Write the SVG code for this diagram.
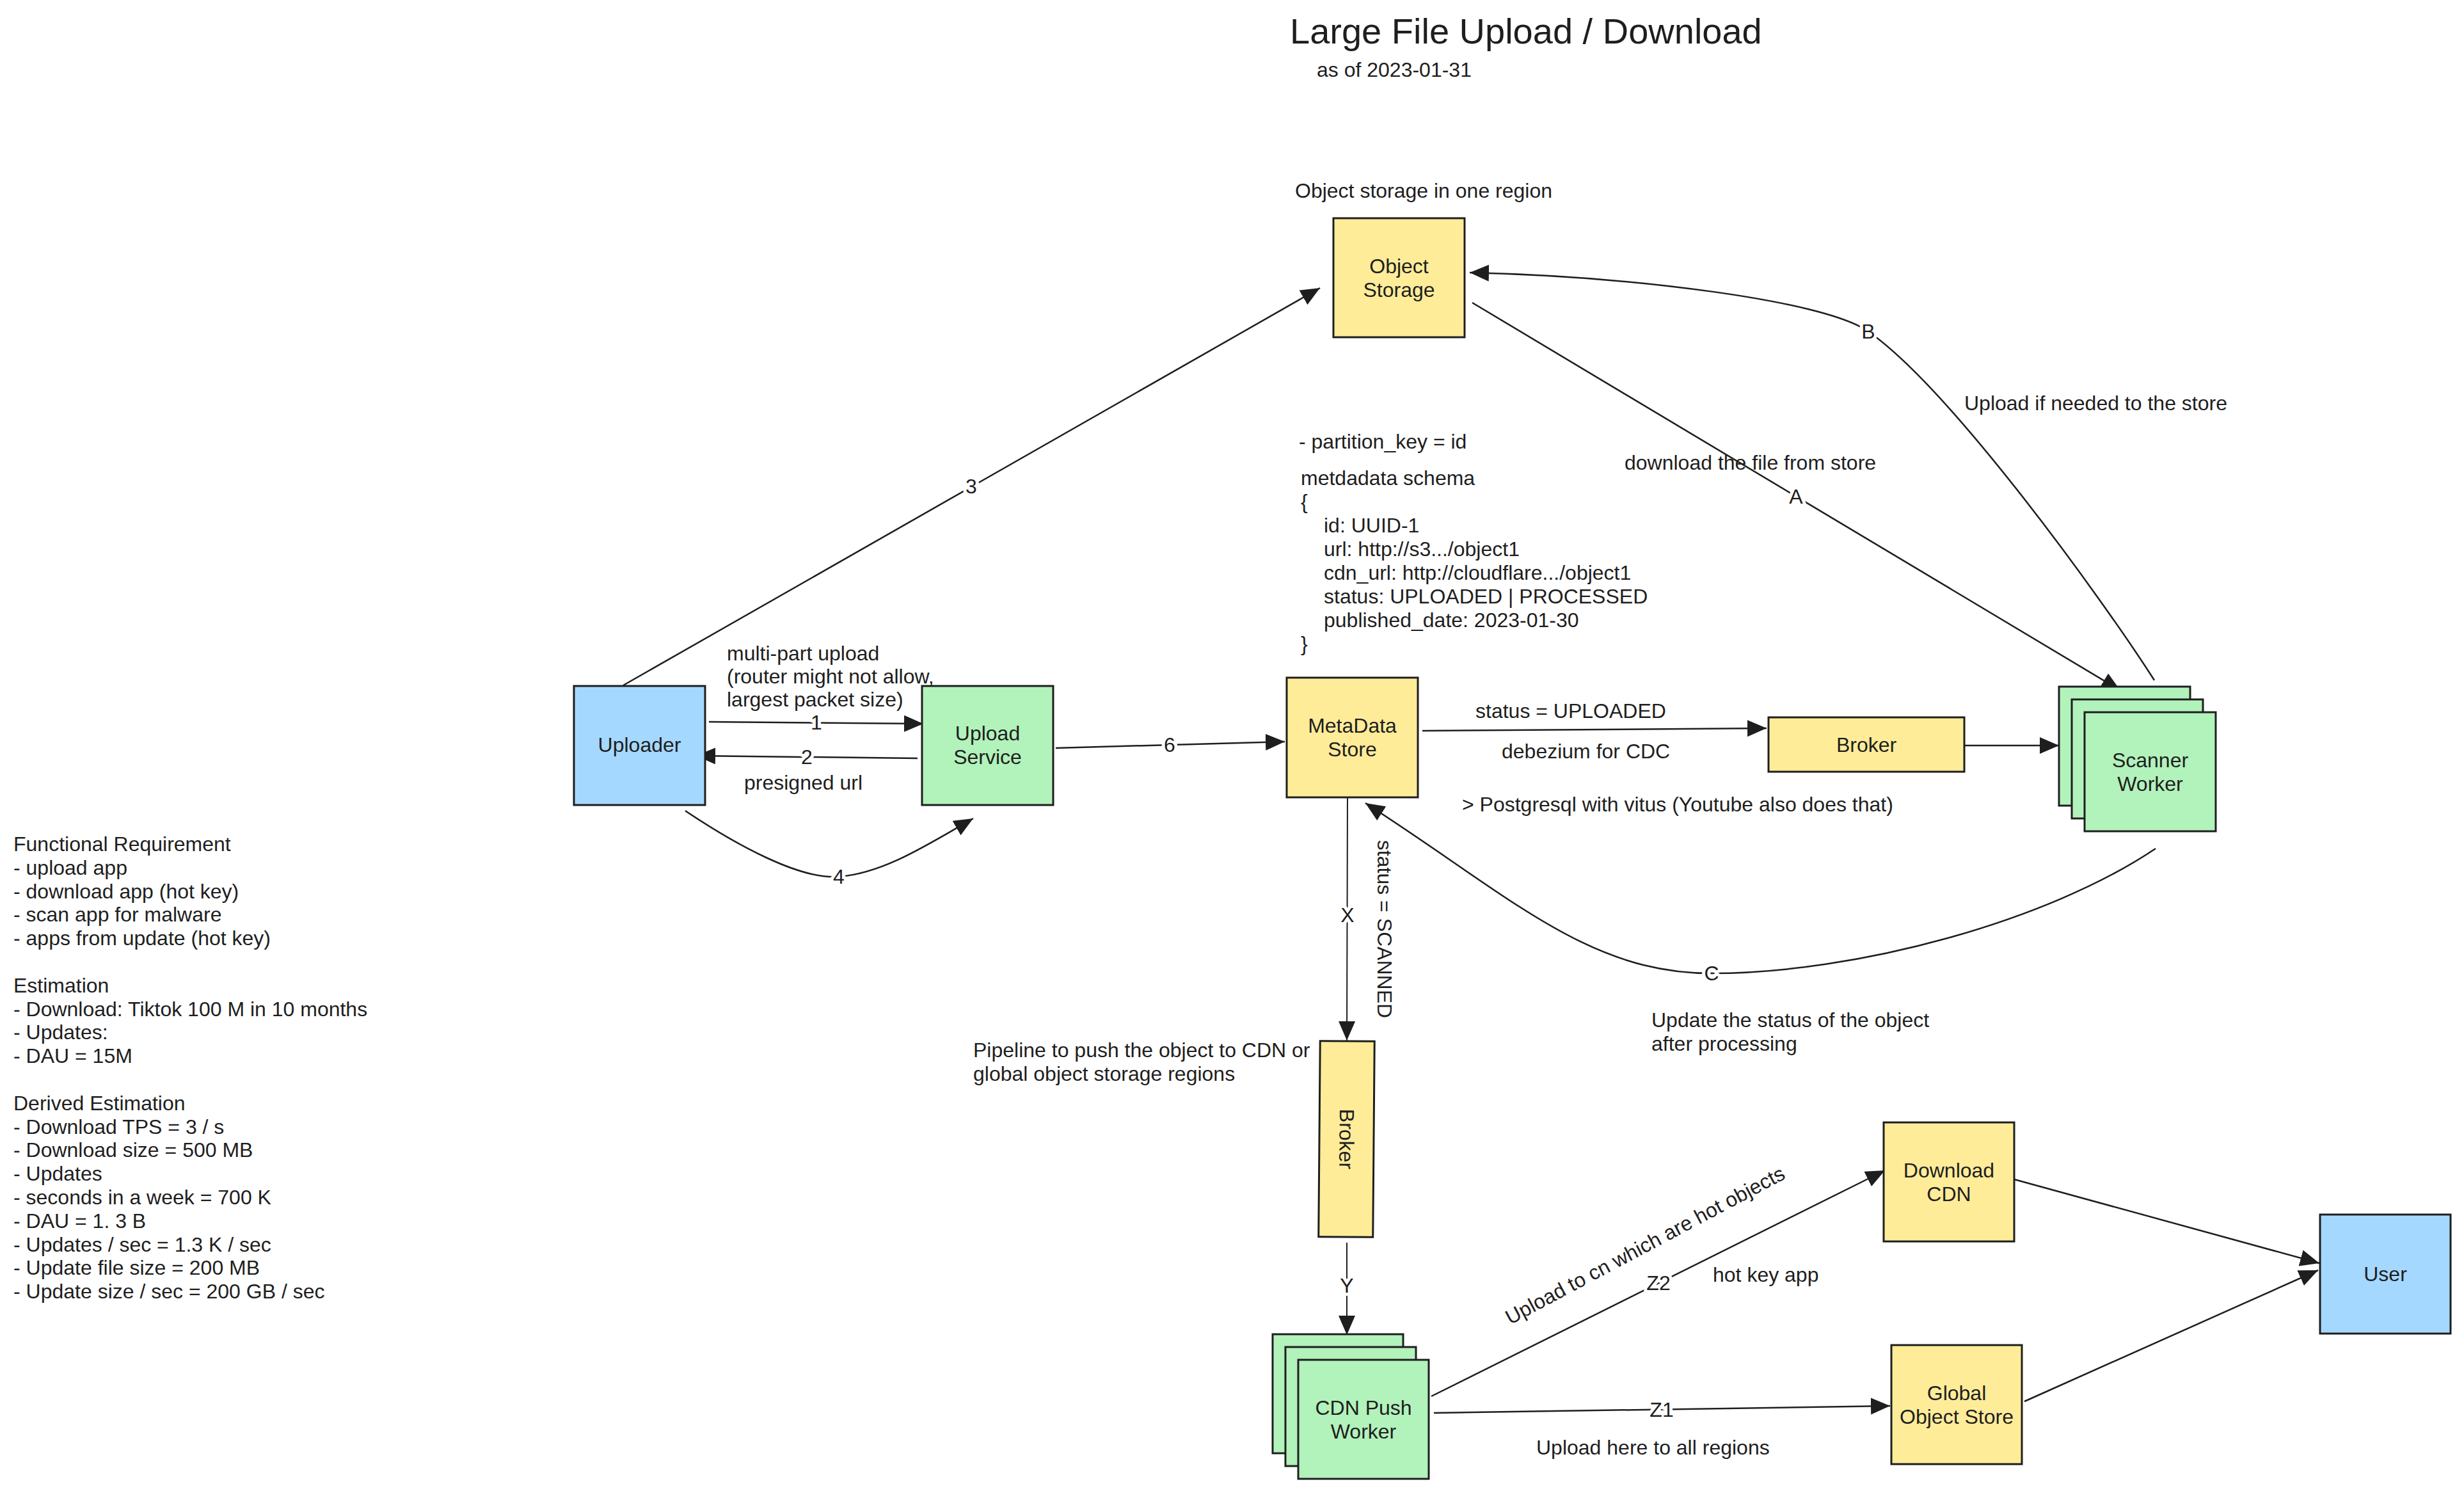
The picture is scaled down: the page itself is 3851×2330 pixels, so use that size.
<svg xmlns="http://www.w3.org/2000/svg" width="3851" height="2330" viewBox="0 0 3851 2330">
<style>
text{font-family:"Liberation Sans",Arial,Helvetica,sans-serif;font-size:32px;fill:#1e1e1e}
.ttl{font-size:56px}
.m{text-anchor:middle}
.box{stroke:#1e1e1e;stroke-width:3}
.y{fill:#ffec99}.g{fill:#b2f2bb}.b{fill:#a5d8ff}
.c{fill:none;stroke:#1e1e1e;stroke-width:2.5}
.t{fill:none;stroke:#1e1e1e;stroke-width:2}
.lbl{text-anchor:middle;dominant-baseline:central;paint-order:stroke;stroke:#fff;stroke-width:10px;stroke-linejoin:round}
</style>
<defs>
<marker id="ah" markerUnits="userSpaceOnUse" markerWidth="32" markerHeight="28" refX="30" refY="13" orient="auto">
<path d="M0,0 L30,13 L0,26 Z" fill="#1e1e1e"/>
</marker>
</defs>
<rect width="3851" height="2330" fill="#fff"/>

<g id="title">
<text class="ttl" x="2016" y="68">Large File Upload / Download</text>
<text x="2058" y="120">as of 2023-01-31</text>
</g>

<g id="notes">
<text x="2024" y="309">Object storage in one region</text>
<text x="2030" y="701">- partition_key = id</text>
<text x="2033" y="758">metdadata schema</text>
<text x="2033" y="795">{</text>
<text x="2069" y="832">id: UUID-1</text>
<text x="2069" y="869">url: http://s3.../object1</text>
<text x="2069" y="906">cdn_url: http://cloudflare.../object1</text>
<text x="2069" y="943">status: UPLOADED | PROCESSED</text>
<text x="2069" y="980">published_date: 2023-01-30</text>
<text x="2033" y="1017">}</text>
<text x="1136" y="1032">multi-part upload</text>
<text x="1136" y="1068">(router might not allow,</text>
<text x="1136" y="1104">largest packet size)</text>
<text x="1163" y="1234">presigned url</text>
<text x="2306" y="1122">status = UPLOADED</text>
<text x="2347" y="1185">debezium for CDC</text>
<text x="2285" y="1268">&gt; Postgresql with vitus (Youtube also does that)</text>
<text x="2539" y="734">download the file from store</text>
<text x="3070" y="641">Upload if needed to the store</text>
<text x="2581" y="1605">Update the status of the object</text>
<text x="2581" y="1642">after processing</text>
<text x="1521" y="1652">Pipeline to push the object to CDN or</text>
<text x="1521" y="1689">global object storage regions</text>
<text class="m" transform="translate(2164,1452) rotate(90)" dominant-baseline="central">status = SCANNED</text>
<text class="m" transform="translate(2571,1946) rotate(-28)" dominant-baseline="central">Upload to cn which are hot objects</text>
<text x="2677" y="2003">hot key app</text>
<text x="2401" y="2273">Upload here to all regions</text>
</g>

<g id="requirements">
<text x="21" y="1330">Functional Requirement</text>
<text x="21" y="1366.8">- upload app</text>
<text x="21" y="1403.6">- download app (hot key)</text>
<text x="21" y="1440.4">- scan app for malware</text>
<text x="21" y="1477.2">- apps from update (hot key)</text>
<text x="21" y="1550.8">Estimation</text>
<text x="21" y="1587.6">- Download: Tiktok 100 M in 10 months</text>
<text x="21" y="1624.4">- Updates:</text>
<text x="21" y="1661.2">- DAU = 15M</text>
<text x="21" y="1734.8">Derived Estimation</text>
<text x="21" y="1771.6">- Download TPS = 3 / s</text>
<text x="21" y="1808.4">- Download size = 500 MB</text>
<text x="21" y="1845.2">- Updates</text>
<text x="21" y="1882">- seconds in a week = 700 K</text>
<text x="21" y="1918.8">- DAU = 1. 3 B</text>
<text x="21" y="1955.6">- Updates / sec = 1.3 K / sec</text>
<text x="21" y="1992.4">- Update file size = 200 MB</text>
<text x="21" y="2029.2">- Update size / sec = 200 GB / sec</text>
</g>

<g id="connectors">
<path class="c" d="M974,1071 L2063,450" marker-end="url(#ah)"/>
<path class="c" d="M1108,1128 L1443,1131" marker-end="url(#ah)"/>
<path class="c" d="M1434,1185 L1088,1181" marker-end="url(#ah)"/>
<path class="c" d="M1071,1267 C1150,1320 1250,1375 1311,1370 C1380,1365 1450,1320 1521,1279" marker-end="url(#ah)"/>
<path class="c" d="M1650,1169 L2008,1159" marker-end="url(#ah)"/>
<path class="c" d="M2223,1142 L2761,1138" marker-end="url(#ah)"/>
<path class="c" d="M3070,1165 L3218,1165" marker-end="url(#ah)"/>
<path class="c" d="M2301,473 L3314,1079" marker-end="url(#ah)"/>
<path class="c" d="M3367,1063 C3287,938 3050,609 2920,518 C2850,469 2550,432 2297,426" marker-end="url(#ah)"/>
<path class="c" d="M3369,1326 C3200,1440 2900,1521 2675,1521 C2480,1521 2360,1400 2134,1255" marker-end="url(#ah)"/>
<path class="t" d="M2106,1246 L2105,1626" marker-end="url(#ah)"/>
<path class="t" d="M2105,1942 L2105,2086" marker-end="url(#ah)"/>
<path class="c" d="M2237,2182 L2946,1829" marker-end="url(#ah)"/>
<path class="c" d="M2241,2208 L2954,2197" marker-end="url(#ah)"/>
<path class="c" d="M3148,1843 L3625,1974" marker-end="url(#ah)"/>
<path class="c" d="M3164,2190 L3623,1985" marker-end="url(#ah)"/>
<text class="lbl" x="1518" y="760">3</text>
<text class="lbl" x="1276" y="1129">1</text>
<text class="lbl" x="1261" y="1183">2</text>
<text class="lbl" x="1311" y="1370">4</text>
<text class="lbl" x="1828" y="1164">6</text>
<text class="lbl" x="2807" y="776">A</text>
<text class="lbl" x="2920" y="518">B</text>
<text class="lbl" x="2675" y="1521">C</text>
<text class="lbl" x="2106" y="1430">X</text>
<text class="lbl" x="2105" y="2009">Y</text>
<text class="lbl" x="2592" y="2005">Z2</text>
<text class="lbl" x="2597" y="2203">Z1</text>
</g>

<g id="object-storage">
<rect class="box y" x="2084" y="341" width="205" height="186"/>
<text class="m" x="2186.5" y="427">Object</text>
<text class="m" x="2186.5" y="464">Storage</text>
</g>
<g id="uploader">
<rect class="box b" x="897" y="1072" width="205" height="186"/>
<text class="m" x="999.5" y="1175">Uploader</text>
</g>
<g id="upload-service">
<rect class="box g" x="1441" y="1072" width="205" height="186"/>
<text class="m" x="1543.5" y="1157">Upload</text>
<text class="m" x="1543.5" y="1194">Service</text>
</g>
<g id="metadata-store">
<rect class="box y" x="2011" y="1059" width="205" height="187"/>
<text class="m" x="2113.5" y="1145">MetaData</text>
<text class="m" x="2113.5" y="1182">Store</text>
</g>
<g id="broker-scan">
<rect class="box y" x="2764" y="1121" width="306" height="85"/>
<text class="m" x="2917" y="1175">Broker</text>
</g>
<g id="scanner-worker">
<rect class="box g" x="3218" y="1073" width="205" height="186"/>
<rect class="box g" x="3238" y="1093" width="205" height="186"/>
<rect class="box g" x="3258" y="1113" width="205" height="186"/>
<text class="m" x="3360.5" y="1199">Scanner</text>
<text class="m" x="3360.5" y="1236">Worker</text>
</g>
<g id="broker-push" transform="rotate(0.47,2104.5,1780)">
<rect class="box y" x="2062" y="1627" width="85" height="306"/>
<text class="m" transform="translate(2104.5,1780) rotate(90)" dominant-baseline="central">Broker</text>
</g>
<g id="cdn-push-worker">
<rect class="box g" x="1989" y="2085" width="204" height="186"/>
<rect class="box g" x="2009" y="2105" width="204" height="186"/>
<rect class="box g" x="2029" y="2125" width="204" height="186"/>
<text class="m" x="2131" y="2211">CDN Push</text>
<text class="m" x="2131" y="2248">Worker</text>
</g>
<g id="download-cdn">
<rect class="box y" x="2944" y="1754" width="204" height="186"/>
<text class="m" x="3046" y="1840">Download</text>
<text class="m" x="3046" y="1877">CDN</text>
</g>
<g id="global-object-store">
<rect class="box y" x="2956" y="2102" width="204" height="186"/>
<text class="m" x="3058" y="2188">Global</text>
<text class="m" x="3058" y="2225">Object Store</text>
</g>
<g id="user">
<rect class="box b" x="3626" y="1898" width="204" height="186"/>
<text class="m" x="3728" y="2002">User</text>
</g>
</svg>
